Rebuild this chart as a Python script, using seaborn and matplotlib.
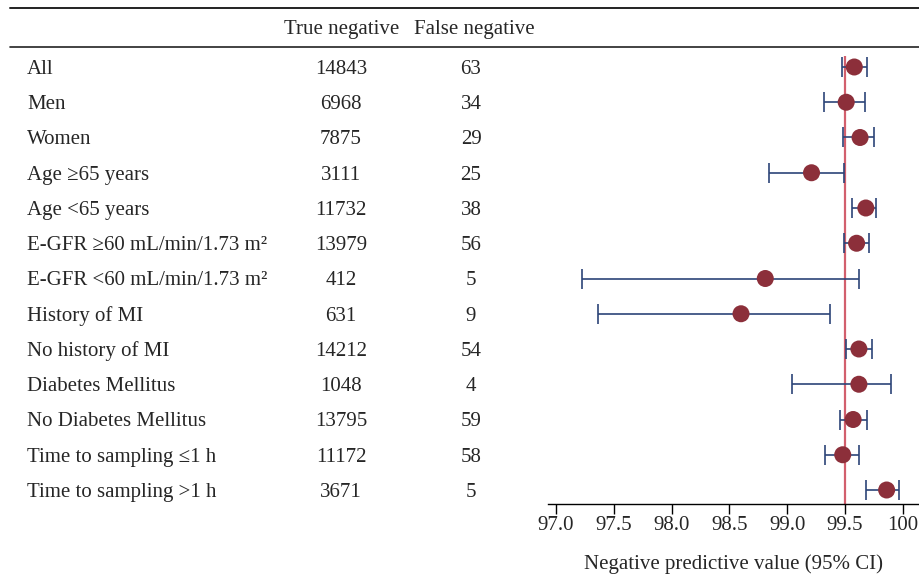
import matplotlib
matplotlib.use("Agg")
import matplotlib.pyplot as plt
import matplotlib.transforms as mtransforms
from matplotlib.lines import Line2D
import seaborn as sns
import pandas as pd

# ---- data ----
subgroups = ["All", "Men", "Women", "Age ≥65 years", "Age <65 years",
             "E-GFR ≥60 mL/min/1.73 m²", "E-GFR <60 mL/min/1.73 m²",
             "History of MI", "No history of MI", "Diabetes Mellitus",
             "No Diabetes Mellitus", "Time to sampling ≤1 h", "Time to sampling >1 h"]
true_negative = [14843, 6968, 7875, 3111, 11732, 13979, 412, 631, 14212, 1048, 13795, 11172, 3671]
false_negative = [63, 34, 29, 25, 38, 56, 5, 9, 54, 4, 59, 58, 5]
npv = [99.58, 99.51, 99.63, 99.21, 99.68, 99.60, 98.81, 98.60, 99.62, 99.62, 99.57, 99.48, 99.86]
ci_low = [99.47, 99.32, 99.48, 98.84, 99.56, 99.49, 97.22, 97.36, 99.51, 99.04, 99.46, 99.33, 99.68]
ci_high = [99.69, 99.67, 99.75, 99.49, 99.77, 99.71, 99.62, 99.37, 99.73, 99.90, 99.69, 99.62, 99.97]
x_ticks = [97.0, 97.5, 98.0, 98.5, 99.0, 99.5, 100.0]
x_ticklabels = ["97.0", "97.5", "98.0", "98.5", "99.0", "99.5", "100"]
reference_value = 99.5

df = pd.DataFrame({"subgroup": subgroups, "row": range(len(subgroups)),
                   "npv": npv, "lo": ci_low, "hi": ci_high})

sns.set_theme(style="white")
plt.rcParams["font.family"] = ["Liberation Serif", "DejaVu Serif"]

W, H = 919, 582
fig = plt.figure(figsize=(W / 100, H / 100), dpi=100)

ax_left, ax_right, ax_top, ax_bot = 548, 919, 56, 504
ax = fig.add_axes([ax_left / W, 1 - ax_bot / H, (ax_right - ax_left) / W, (ax_bot - ax_top) / H])

navy = "#2C4478"
dark_red = "#8C2F3A"
line_red = "#D25F6D"

ax.axvline(reference_value, color=line_red, lw=1.6, zorder=1)
ax.errorbar(df["npv"], df["row"],
            xerr=[df["npv"] - df["lo"], df["hi"] - df["npv"]],
            fmt="none", ecolor=navy, elinewidth=1.2, capsize=7, capthick=1.2, zorder=2)
sns.scatterplot(data=df, x="npv", y="row", ax=ax, color=dark_red, s=150,
                edgecolor="none", zorder=3, legend=False)

ax.set_xlim(96.93, 100.14)
ax.set_ylim(12.397, -0.312)
ax.set_yticks([])
ax.set_ylabel("")
ax.set_xticks(x_ticks)
ax.set_xticklabels(x_ticklabels, fontsize=15)
ax.set_xlabel("Negative predictive value (95% CI)", fontsize=15, labelpad=14)
for s in ["top", "right", "left"]:
    ax.spines[s].set_visible(False)
ax.spines["bottom"].set_color("black")
ax.spines["bottom"].set_linewidth(1.0)
ax.tick_params(axis="x", direction="out", length=7, width=1.0, color="black", pad=1.5, bottom=True)
ax.patch.set_alpha(0)

# table text: x in figure fraction, y in data rows
trans = mtransforms.blended_transform_factory(fig.transFigure, ax.transData)
fs = 15
dy = 0.07
for i, (name, tn, fn) in enumerate(zip(subgroups, true_negative, false_negative)):
    ax.text(27 / W, i + dy, name, transform=trans, ha="left", va="center", fontsize=fs, clip_on=False)
    ax.text(341 / W, i + dy, str(tn), transform=trans, ha="center", va="center", fontsize=fs, clip_on=False)
    ax.text(471 / W, i + dy, str(fn), transform=trans, ha="center", va="center", fontsize=fs, clip_on=False)

header_row = (27 - 67) / 35.25 + dy
ax.text(342 / W, header_row, "True negative", transform=trans, ha="center", va="center", fontsize=fs, clip_on=False)
ax.text(474 / W, header_row, "False negative", transform=trans, ha="center", va="center", fontsize=fs, clip_on=False)

for ypx, lw in [(8, 1.4), (47, 1.2)]:
    fig.add_artist(Line2D([10 / W, 1.0], [1 - ypx / H, 1 - ypx / H], transform=fig.transFigure,
                          color="#222222", lw=lw))

fig.savefig("out.png", dpi=100, facecolor="white")
